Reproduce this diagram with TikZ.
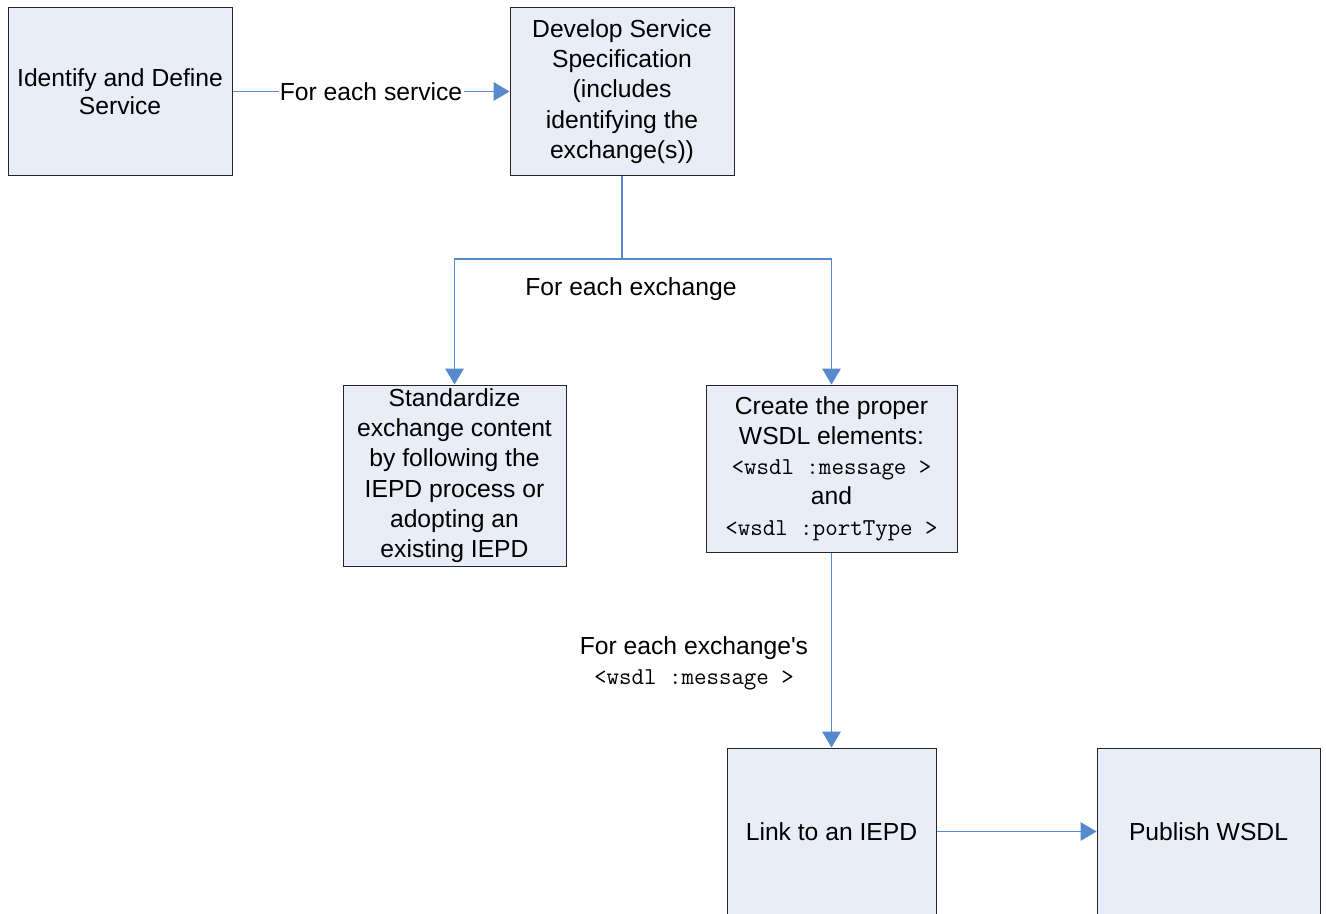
\documentclass[tikz,border=0pt]{standalone}
\usepackage{fontspec}
\setmainfont{Liberation Sans}[Ligatures=TeXOff]
\usetikzlibrary{arrows.meta}
\definecolor{boxfill}{RGB}{233,237,247}
\definecolor{linkblue}{RGB}{86,137,205}
\tikzset{
  box/.style={draw=black!85, line width=0.75pt, fill=boxfill, align=center, inner sep=0pt,
    font=\fontsize{18.5}{22.7}\selectfont},
  conn/.style={draw=linkblue, line width=0.8pt},
  arr/.style={conn, -{Triangle[length=12pt,width=14pt]}},
  lbl/.style={align=center, inner sep=0pt, font=\fontsize{18.5}{22.7}\selectfont},
}
\newcommand{\wsdl}[1]{{\ttfamily\fontsize{18.2}{22.7}\selectfont #1}}
\begin{document}
\begin{tikzpicture}[x=0.75pt,y=-0.75pt]
\useasboundingbox (0,0) rectangle (1326,913);
\node[box, minimum width=168pt, minimum height=125.25pt] (ident) at (120,91.5) {\raisebox{-1.5pt}{\parbox{160pt}{\centering\fontsize{18.5}{21}\selectfont Identify and Define\\Service}}};
\node[box, minimum width=168pt, minimum height=125.25pt] (dev) at (622,91.5) {\raisebox{-2pt}{\parbox{160pt}{\centering Develop Service\\Specification\\(includes\\identifying the\\exchange(s))}}};
\node[box, minimum width=167.25pt, minimum height=135.75pt] (std) at (454.5,475.5) {\raisebox{-2pt}{\parbox{160pt}{\centering Standardize\\exchange content\\by following the\\IEPD process or\\adopting an\\existing IEPD}}};
\node[box, minimum width=188.25pt, minimum height=125.25pt] (wsdl) at (831.5,468.5) {\raisebox{-2pt}{\parbox{180pt}{\centering Create the proper\\WSDL elements:\\\wsdl{<wsdl :message >}\\and\\\wsdl{<wsdl :portType >}}}};
\node[box, minimum width=156.75pt, minimum height=125.25pt] (link) at (831.5,831.5) {Link to an IEPD};
\node[box, minimum width=167.25pt, minimum height=125.25pt] (pub) at (1208.5,831.5) {Publish WSDL};

% first connector
\draw[arr] (ident.east) -- node[lbl, fill=white, inner xsep=1pt, inner ysep=2pt] (lsvc) {For each service} (dev.west);

% branch
\coordinate (j) at (622,259);
\draw[conn] (dev.south) -- (j);
\draw[arr] (j) -| (std.north);
\draw[arr] (j) -| (wsdl.north);
\node[lbl] (lexch) at (631,289) {For each exchange};

% down to link
\draw[arr] (wsdl.south) -- (link.north);
\node[lbl] (lmsg) at (694,663) {For each exchange's\\\wsdl{<wsdl :message >}};

% to publish
\draw[arr] (link.east) -- (pub.west);
\end{tikzpicture}
\end{document}
